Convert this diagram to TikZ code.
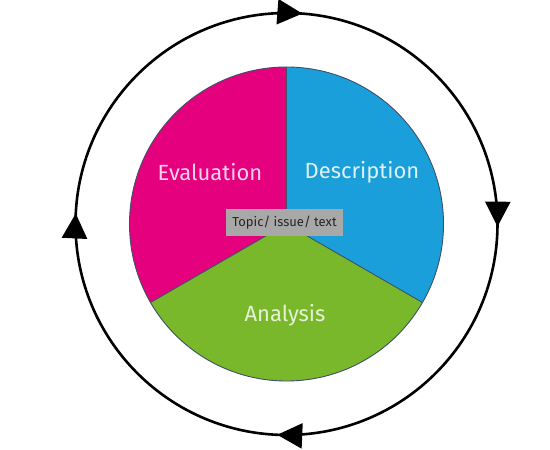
\documentclass[tikz,border=0pt]{standalone}
\usepackage{fontspec}
\setmainfont{Fira Sans}
\usetikzlibrary{arrows.meta,decorations.markings}
\definecolor{evalc}{HTML}{E5007D}
\definecolor{descc}{HTML}{1A9FDA}
\definecolor{anac}{HTML}{7AB82B}
\definecolor{edgec}{HTML}{3D5068}
\definecolor{topicc}{HTML}{A8A8A8}
\tikzset{
  sector/.style={draw=edgec, line width=0.9pt},
  biglabel/.style={font=\fontsize{22}{24}\selectfont, inner sep=0pt},
  cycle/.style={line width=2.6pt,
    decoration={markings,
      mark=at position 0.012 with {\arrow{Triangle[length=25pt,width=25pt]}},
      mark=at position 0.252 with {\arrow{Triangle[length=25pt,width=25pt]}},
      mark=at position 0.507 with {\arrow{Triangle[length=25pt,width=25pt]}},
      mark=at position 0.758 with {\arrow{Triangle[length=25pt,width=25pt]}}},
    postaction={decorate}},
}
\begin{document}
\begin{tikzpicture}[x=1pt,y=1pt]
\useasboundingbox (0,0) rectangle (550,450);
\coordinate (c) at (286.5,226);
% pie
\fill[evalc] (c) -- ++(90:157) arc[start angle=90, end angle=210, radius=157] -- cycle;
\fill[descc] (c) -- ++(-30:157) arc[start angle=-30, end angle=90, radius=157] -- cycle;
\fill[anac] (c) -- ++(210:157) arc[start angle=210, end angle=330, radius=157] -- cycle;
\draw[sector] (c) circle[radius=157];
\draw[sector] (c) -- ++(90:157);
\draw[sector] (c) -- ++(210:157);
\draw[sector] (c) -- ++(-30:157);
% outer cycle
\draw[cycle] (c) ++(90:211) arc[start angle=90, end angle=-270, radius=211];
% labels
\node[biglabel, text=evalc!18!white] (eval) at (210,278) {Evaluation};
\node[biglabel, text=descc!15!white] (desc) at (362,278) {Description};
\node[biglabel, text=anac!20!white] (ana) at (285,135) {Analysis};
\node[fill=topicc, minimum width=117pt, minimum height=27pt, inner sep=0pt,
  text=black!85, font=\fontsize{13}{14}\selectfont] (topic) at (284.5,227.5) {Topic/ issue/ text};
\end{tikzpicture}
\end{document}
